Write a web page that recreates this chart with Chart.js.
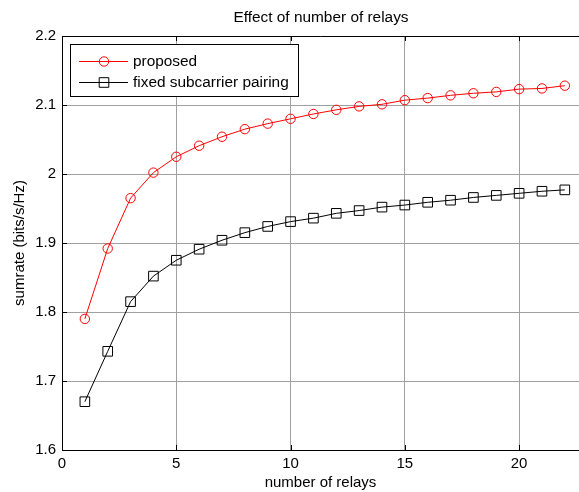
<!DOCTYPE html>
<html>
<head>
<meta charset="utf-8">
<script src="https://cdn.jsdelivr.net/npm/chart.js@4"></script>
<style>
  html, body { margin: 0; padding: 0; background: #fff; overflow: hidden; }
  #wrap { width: 579px; height: 492px; }
</style>
</head>
<body>
<div id="wrap"><canvas id="grafico" width="579" height="492"></canvas></div>
<script>
// Dados
const relays = [1, 2, 3, 4, 5, 6, 7, 8, 9, 10, 11, 12, 13, 14, 15, 16, 17, 18, 19, 20, 21, 22];
const proposed = [1.790, 1.892, 1.965, 2.002, 2.025, 2.041, 2.054, 2.065, 2.073, 2.080, 2.087, 2.093,
                  2.098, 2.101, 2.107, 2.110, 2.114, 2.117, 2.119, 2.123, 2.124, 2.128];
const fixedPairing = [1.670, 1.743, 1.815, 1.852, 1.875, 1.891, 1.904, 1.915, 1.924, 1.931, 1.936, 1.943,
                      1.947, 1.952, 1.955, 1.959, 1.962, 1.966, 1.969, 1.972, 1.975, 1.977];
const xTicks = [0, 5, 10, 15, 20];
const yTicks = [1.6, 1.7, 1.8, 1.9, 2.0, 2.1, 2.2];

const FONT = 'Liberation Sans, Arial, sans-serif';
const GRID = '#a0a0a0';

// Moldura superior, marcas internas, título e legenda (estilo MATLAB)
const estiloMatlab = {
    id: 'estiloMatlab',
    afterDraw(chart) {
        const { ctx, chartArea: a, scales: { x, y } } = chart;
        ctx.save();
        ctx.strokeStyle = '#000';
        ctx.lineWidth = 1;
        ctx.beginPath();
        ctx.moveTo(a.left, a.top + 0.5);
        ctx.lineTo(a.right, a.top + 0.5);
        // marcas internas
        xTicks.forEach(v => {
            const px = Math.round(x.getPixelForValue(v)) + 0.5;
            ctx.moveTo(px, a.bottom); ctx.lineTo(px, a.bottom - 5);
            ctx.moveTo(px, a.top); ctx.lineTo(px, a.top + 5);
        });
        yTicks.forEach(v => {
            const py = Math.round(y.getPixelForValue(v)) + 0.5;
            ctx.moveTo(a.left, py); ctx.lineTo(a.left + 5, py);
        });
        ctx.stroke();

        // título
        ctx.fillStyle = '#000';
        ctx.font = '15.4px ' + FONT;
        ctx.textAlign = 'center';
        ctx.textBaseline = 'middle';
        ctx.fillText('Effect of number of relays', 321, 18);

        // legenda
        const lx = 70, ly = 44, lw = 228, lh = 52;
        ctx.fillStyle = '#fff';
        ctx.fillRect(lx, ly, lw, lh);
        ctx.strokeStyle = '#000';
        ctx.strokeRect(lx + 0.5, ly + 0.5, lw, lh);
        const linhas = [61, 82];
        chart.data.datasets.forEach((ds, i) => {
            const yy = linhas[i] + 0.5;
            ctx.strokeStyle = ds.borderColor;
            ctx.lineWidth = 1;
            ctx.beginPath();
            ctx.moveTo(79, yy); ctx.lineTo(128, yy);
            ctx.stroke();
            ctx.beginPath();
            if (ds.pointStyle === 'circle') {
                ctx.arc(104, yy, ds.pointRadius, 0, Math.PI * 2);
            } else {
                const s = ds.pointRadius * Math.SQRT1_2;
                ctx.rect(104 - s, yy - s, 2 * s, 2 * s);
            }
            ctx.stroke();
            ctx.fillStyle = '#000';
            ctx.textAlign = 'left';
            ctx.font = '15.4px ' + FONT;
            ctx.fillText(ds.label, 133, yy);
        });
        ctx.restore();
    }
};

const ctx = document.getElementById('grafico').getContext('2d');
new Chart(ctx, {
    type: 'line',
    data: {
        labels: relays,
        datasets: [
            {
                label: 'proposed',
                data: proposed,
                borderColor: '#ff0000',
                backgroundColor: 'rgba(0,0,0,0)',
                borderWidth: 1,
                pointStyle: 'circle',
                pointRadius: 4.7,
                pointBorderWidth: 1,
                pointBackgroundColor: 'rgba(0,0,0,0)',
                tension: 0
            },
            {
                label: 'fixed subcarrier pairing',
                data: fixedPairing,
                borderColor: '#000000',
                backgroundColor: 'rgba(0,0,0,0)',
                borderWidth: 1,
                pointStyle: 'rect',
                pointRadius: 6.8,
                pointBorderWidth: 1,
                pointBackgroundColor: 'rgba(0,0,0,0)',
                tension: 0
            }
        ]
    },
    options: {
        responsive: false,
        animation: false,
        devicePixelRatio: 1,
        layout: { autoPadding: false, padding: { top: 36, right: 0, left: 0, bottom: 0 } },
        plugins: {
            legend: { display: false },
            title: { display: false },
            tooltip: { enabled: false }
        },
        scales: {
            x: {
                type: 'linear',
                min: 0,
                max: 22.62,
                afterFit: s => { s.height = 42; s.paddingRight = 0; s.paddingLeft = 0; },
                afterBuildTicks: s => { s.ticks = xTicks.map(v => ({ value: v })); },
                ticks: { font: { family: FONT, size: 15 }, color: '#000', padding: 5, maxRotation: 0 },
                grid: { color: GRID, drawTicks: false },
                border: { color: '#000', width: 1 },
                title: {
                    display: true, text: 'number of relays', color: '#000',
                    font: { family: FONT, size: 15 }, padding: { top: 0, bottom: 0 }
                }
            },
            y: {
                min: 1.6,
                max: 2.2,
                afterFit: s => { s.width = 62; },
                afterBuildTicks: s => { s.ticks = yTicks.map(v => ({ value: v })); },
                ticks: {
                    font: { family: FONT, size: 15 }, color: '#000', padding: 6,
                    callback: v => (Math.round(v * 10) / 10 === 2 ? '2' : v.toFixed(1))
                },
                grid: { color: GRID, drawTicks: false },
                border: { color: '#000', width: 1 },
                title: {
                    display: true, text: 'sumrate (bits/s/Hz)', color: '#000',
                    font: { family: FONT, size: 15 }, padding: { top: 11, bottom: 0 }
                }
            }
        }
    },
    plugins: [estiloMatlab]
});
</script>
</body>
</html>
